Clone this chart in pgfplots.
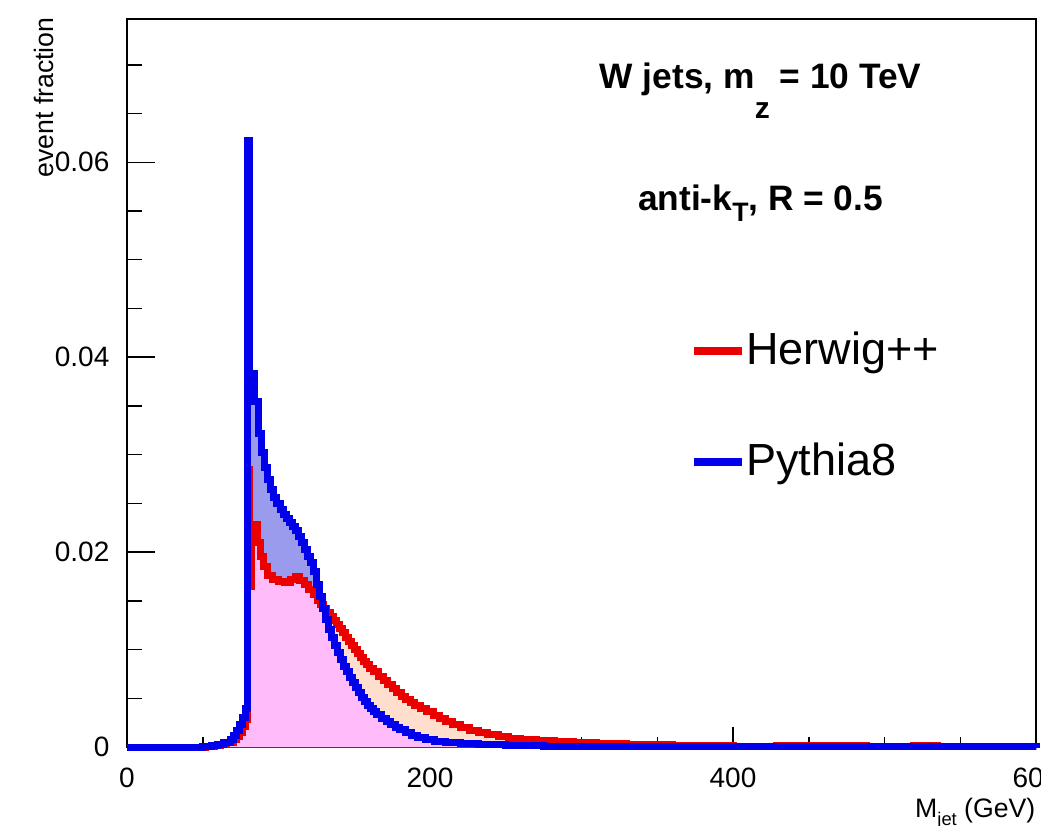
\documentclass[border=0pt]{standalone}
\usepackage{fontspec}
\setmainfont{Liberation Sans}
\usepackage{pgfplots}
\usepackage{pgfplotstable}
\pgfplotsset{compat=1.18}
\definecolor{hred}{RGB}{235,0,0}
\definecolor{hblue}{RGB}{0,0,235}
\definecolor{pinkf}{RGB}{255,187,250}
\definecolor{lavf}{RGB}{155,155,238}
\definecolor{peachf}{RGB}{255,222,205}

\pgfplotstableread{
x y
0 0
50 0.0001
56 0.0002
60 0.0003
64 0.0005
68 0.0008
70 0.0012
72 0.0017
74 0.0023
76 0.0030
78 0.0040
79.5 0.0622
81 0.0383
84 0.0355
87 0.0322
89 0.0302
91 0.0287
93 0.0274
95 0.0264
97 0.0256
99 0.0250
101 0.0244
103 0.0239
105 0.0234
107 0.0230
109 0.0226
111 0.0222
113 0.0216
115 0.0210
117 0.0203
119 0.0196
121 0.0189
123 0.0180
125 0.0167
127 0.0154
129 0.0142
131 0.0131
133 0.0121
135 0.0112
137 0.0104
139 0.0097
141 0.0090
143 0.0083
145 0.0077
147 0.0071
149 0.0066
151 0.0061
153 0.0056
155 0.0051
157 0.0047
159 0.0043
161 0.0040
163 0.0036
165 0.0033
168 0.0029
171 0.0026
174 0.0023
177 0.0020
180 0.0018
184 0.0015
188 0.0012
192 0.0010
197 0.0008
203 0.0006
210 0.0005
220 0.0004
232 0.0003
250 0.0002
275 0.0001
320 0.00005
600 0
}\pythia

\pgfplotstableread{
x y
0 0
52 0.0001
58 0.0002
62 0.0003
66 0.0005
70 0.0008
72 0.0011
74 0.0015
76 0.0021
78 0.0028
79.5 0.0285
81 0.0165
82.5 0.0228
86 0.0210
88 0.0195
90 0.0185
93 0.0176
96 0.0172
100 0.0170
104 0.0169
108 0.0172
111 0.0175
114 0.0171
117 0.0167
120 0.0162
123 0.0157
126 0.0150
128 0.0146
130 0.0142
132 0.0138
134 0.0134
136 0.0130
138 0.0126
140 0.0122
142 0.0117
144 0.0112
146 0.0108
148 0.0104
150 0.0100
152 0.0096
154 0.0092
156 0.0088
158 0.0085
160 0.0081
163 0.0077
166 0.0072
169 0.0068
172 0.0064
175 0.0060
178 0.0056
181 0.0052
184 0.0049
187 0.0046
190 0.0043
194 0.0040
198 0.0036
202 0.0032
206 0.0029
210 0.0026
215 0.0023
220 0.0020
226 0.0017
232 0.0015
238 0.0013
245 0.0011
252 0.0009
260 0.0008
270 0.0007
282 0.0006
295 0.0005
310 0.0004
330 0.0003
360 0.0002
400 0.0001
429 0.0002
465 0.0001
468 0.0002
488 0.0001
519 0.0002
535 0.0001
600 0.0001
}\herwig

\pgfplotstableread{
x y
0 0
52 0.0001
58 0.0002
62 0.0003
66 0.0005
70 0.0008
72 0.0011
74 0.0015
76 0.0021
78 0.0028
79.5 0.0285
81 0.0165
82.5 0.0228
86 0.0210
88 0.0195
90 0.0185
93 0.0176
96 0.0172
100 0.0170
104 0.0169
108 0.0172
111 0.0175
114 0.0171
117 0.0167
120 0.0162
123 0.0157
126 0.0150
128 0.0146
129 0.0142
131 0.0131
133 0.0121
135 0.0112
137 0.0104
139 0.0097
141 0.0090
143 0.0083
145 0.0077
147 0.0071
149 0.0066
151 0.0061
153 0.0056
155 0.0051
157 0.0047
159 0.0043
161 0.0040
163 0.0036
165 0.0033
168 0.0029
171 0.0026
174 0.0023
177 0.0020
180 0.0018
184 0.0015
188 0.0012
192 0.0010
197 0.0008
203 0.0006
210 0.0005
220 0.0004
232 0.0003
250 0.0002
275 0.0001
320 0.00005
600 0
}\overlap

\begin{document}
\begin{tikzpicture}
\begin{axis}[
  scale only axis, width=272.7pt, height=218.4pt,
  xmin=0, xmax=600, ymin=0, ymax=0.0747,
  clip=false,
  axis line style={line width=0.45pt},
  every tick/.style={line width=0.45pt, black},
  tick align=inside, tick pos=left,
  major tick length=8.4pt, minor tick length=4.5pt,
  xtick style={/pgfplots/major tick length=6pt, /pgfplots/minor tick length=3pt},
  xtick={0,200,400,600}, xticklabels={0,200,400,600},
  minor xtick={50,100,150,250,300,350,450,500,550},
  ytick={0,0.02,0.04,0.06}, yticklabels={0,0.02,0.04,0.06},
  minor ytick={0.005,0.01,0.015,0.025,0.03,0.035,0.045,0.05,0.055,0.065,0.07},
  scaled y ticks=false,
  every tick label/.append style={font=\fontsize{8.4}{10}\selectfont},
  yticklabel style={inner sep=0pt, xshift=-5.1pt},
  xticklabel style={inner sep=0pt, yshift=-6pt},
  ylabel={event fraction},
  ylabel style={at={(axis description cs:-0.0803,1.003)}, anchor=south east, inner sep=0pt, font=\fontsize{8}{9}\selectfont},
  xlabel={M\raisebox{-2.5pt}{\fontsize{5.5}{6}\selectfont jet} (GeV)},
  xlabel style={at={(axis description cs:1,-0.0962)}, anchor=base east, inner sep=0pt, font=\fontsize{8}{9}\selectfont},
  legend style={draw=none, fill=none, at={(axis description cs:0.6194,0.4677)}, anchor=west,
    inner sep=0pt, outer sep=0pt, font=\fontsize{13.5}{15}\selectfont, row sep=22pt,
    nodes={inner sep=0pt}, /tikz/every even column/.append style={column sep=1.5pt}},
  legend cell align=left,
  legend image code/.code={\draw[#1, line width=2.4pt] (0pt,0pt) -- (14.4pt,0pt);},
]
\addplot[const plot, draw=none, fill=lavf, forget plot] table {\pythia} \closedcycle;
\addplot[const plot, draw=none, fill=peachf, forget plot] table {\herwig} \closedcycle;
\addplot[const plot, draw=none, fill=pinkf, forget plot] table {\overlap} \closedcycle;
\addplot[const plot, hred, line width=2.1pt] table {\herwig};
\addlegendentry{Herwig++}
\addplot[const plot, hblue, line width=2.1pt] table {\pythia};
\addlegendentry{Pythia8}
\node[anchor=base, inner sep=0pt, font=\bfseries\fontsize{10.6}{12}\selectfont] at (axis description cs:0.697,0.905)
  {W jets, m\raisebox{-9pt}{\fontsize{9}{9}\selectfont z} = 10 TeV};
\node[anchor=base, inner sep=0pt, font=\bfseries\fontsize{10.6}{12}\selectfont] at (axis description cs:0.697,0.7376)
  {anti-k\raisebox{-3.5pt}{\fontsize{8}{8}\selectfont T}, R = 0.5};
\end{axis}
\pgfresetboundingbox
\path[use as bounding box] (-38.1pt,-23.4pt) rectangle (274.2pt,224.1pt);
\end{tikzpicture}
\end{document}
